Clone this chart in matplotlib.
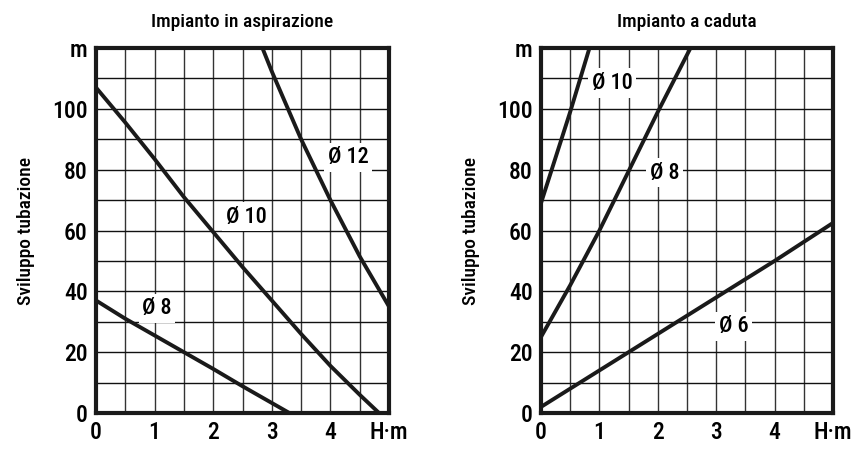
import matplotlib
matplotlib.use("Agg")
import matplotlib.pyplot as plt
from matplotlib import font_manager as fm
import numpy as np

# pick a condensed sans font if one is installed
_names = {f.name for f in fm.fontManager.ttflist}
_cands = ['Roboto Condensed', 'Liberation Sans Narrow', 'DejaVu Sans Condensed',
          'Open Sans Condensed', 'Noto Sans Condensed', 'Arial Narrow']
_cond = [n for n in _cands if n in _names]
_extra = sorted(n for n in _names if ('Condensed' in n or 'Narrow' in n))
FONT = (_cond + _extra + ['DejaVu Sans'])[:1] + ['DejaVu Sans']
plt.rcParams['font.family'] = FONT
plt.rcParams['font.weight'] = 'medium'
plt.rcParams['axes.titleweight'] = 'medium'
plt.rcParams['axes.labelweight'] = 'medium'

# ---- data: left chart (Impianto in aspirazione) ----
asp_d8_x = [0, 0.5, 1, 1.5, 2, 2.5, 3, 3.3]
asp_d8_y = [37, 31, 25.5, 20, 14.5, 8.8, 3.3, 0]
asp_d10_x = [0, 0.5, 1, 1.5, 2, 2.5, 3, 3.5, 4, 4.5, 4.83]
asp_d10_y = [107, 95.5, 83.5, 71, 59.5, 48, 37, 26, 15.5, 6, 0]
asp_d12_x = [2.84, 3, 3.5, 4, 4.5, 5]
asp_d12_y = [120, 112.3, 90, 70, 51.5, 35]

# ---- data: right chart (Impianto a caduta) ----
cad_d10_x = [0, 0.5, 0.83]
cad_d10_y = [69, 99, 120]
cad_d8_x = [0, 0.5, 1, 1.5, 2, 2.56]
cad_d8_y = [25, 42, 60, 79.5, 99, 120]
cad_d6_x = [0, 1, 2, 3, 4, 5]
cad_d6_y = [2, 14, 26, 38, 50, 62.5]

x_ticks = [0, 1, 2, 3, 4, 5]
x_labels = ['0', '1', '2', '3', '4', 'H·m']
y_ticks = [0, 20, 40, 60, 80, 100, 120]
y_labels = ['0', '20', '40', '60', '80', '100', 'm']

titles = ['Impianto in aspirazione', 'Impianto a caduta']
ylabel = 'Sviluppo tubazione'

fig = plt.figure(figsize=(8.51, 4.5), dpi=100)
W, H = 851, 450
ax1 = fig.add_axes([96 / W, (H - 413) / H, 293 / W, 365 / H])
ax2 = fig.add_axes([541 / W, (H - 413) / H, 292 / W, 365 / H])

condensed = FONT[0] != 'DejaVu Sans'
TICK_FS = 17 if condensed else 13
LBL_FS = 16 if condensed else 13
TTL_FS = 14 if condensed else 12


def style(ax, title):
    ax.set_xlim(0, 5)
    ax.set_ylim(0, 120)
    for v in np.arange(0.5, 5, 0.5):
        ax.axvline(v, color='#333333', lw=1.0, zorder=1)
    for v in range(10, 120, 10):
        ax.axhline(v, color='#111111', lw=1.0, zorder=1)
    ax.set_xticks(x_ticks)
    ax.set_xticklabels(x_labels)
    ax.set_yticks(y_ticks)
    ax.set_yticklabels(y_labels)
    ax.tick_params(length=0, labelsize=TICK_FS, pad=6)
    for s in ax.spines.values():
        s.set_linewidth(3)
        s.set_color('#1a1a1a')
        s.set_zorder(5)
    ax.set_title(title, fontsize=TTL_FS, pad=15)
    ax.set_ylabel(ylabel, fontsize=TTL_FS, labelpad=12)


style(ax1, titles[0])
style(ax2, titles[1])

lw = 2.8
col = '#1a1a1a'
ax1.plot(asp_d8_x, asp_d8_y, color=col, lw=lw, zorder=3)
ax1.plot(asp_d10_x, asp_d10_y, color=col, lw=lw, zorder=3)
ax1.plot(asp_d12_x, asp_d12_y, color=col, lw=lw, zorder=3)
ax2.plot(cad_d10_x, cad_d10_y, color=col, lw=lw, zorder=3)
ax2.plot(cad_d8_x, cad_d8_y, color=col, lw=lw, zorder=3)
ax2.plot(cad_d6_x, cad_d6_y, color=col, lw=lw, zorder=3)

bbox = dict(facecolor='white', edgecolor='none', pad=2.5)
for ax, x, y, s in [(ax1, 4.3, 84, 'Ø 12'), (ax1, 2.56, 64.5, 'Ø 10'),
                    (ax1, 1.04, 34.5, 'Ø 8'), (ax2, 1.22, 108.5, 'Ø 10'),
                    (ax2, 2.12, 79, 'Ø 8'), (ax2, 3.3, 28.5, 'Ø 6')]:
    ax.text(x, y, s, fontsize=LBL_FS, ha='center', va='center', bbox=bbox, zorder=4)

fig.savefig('out.png', dpi=100)
